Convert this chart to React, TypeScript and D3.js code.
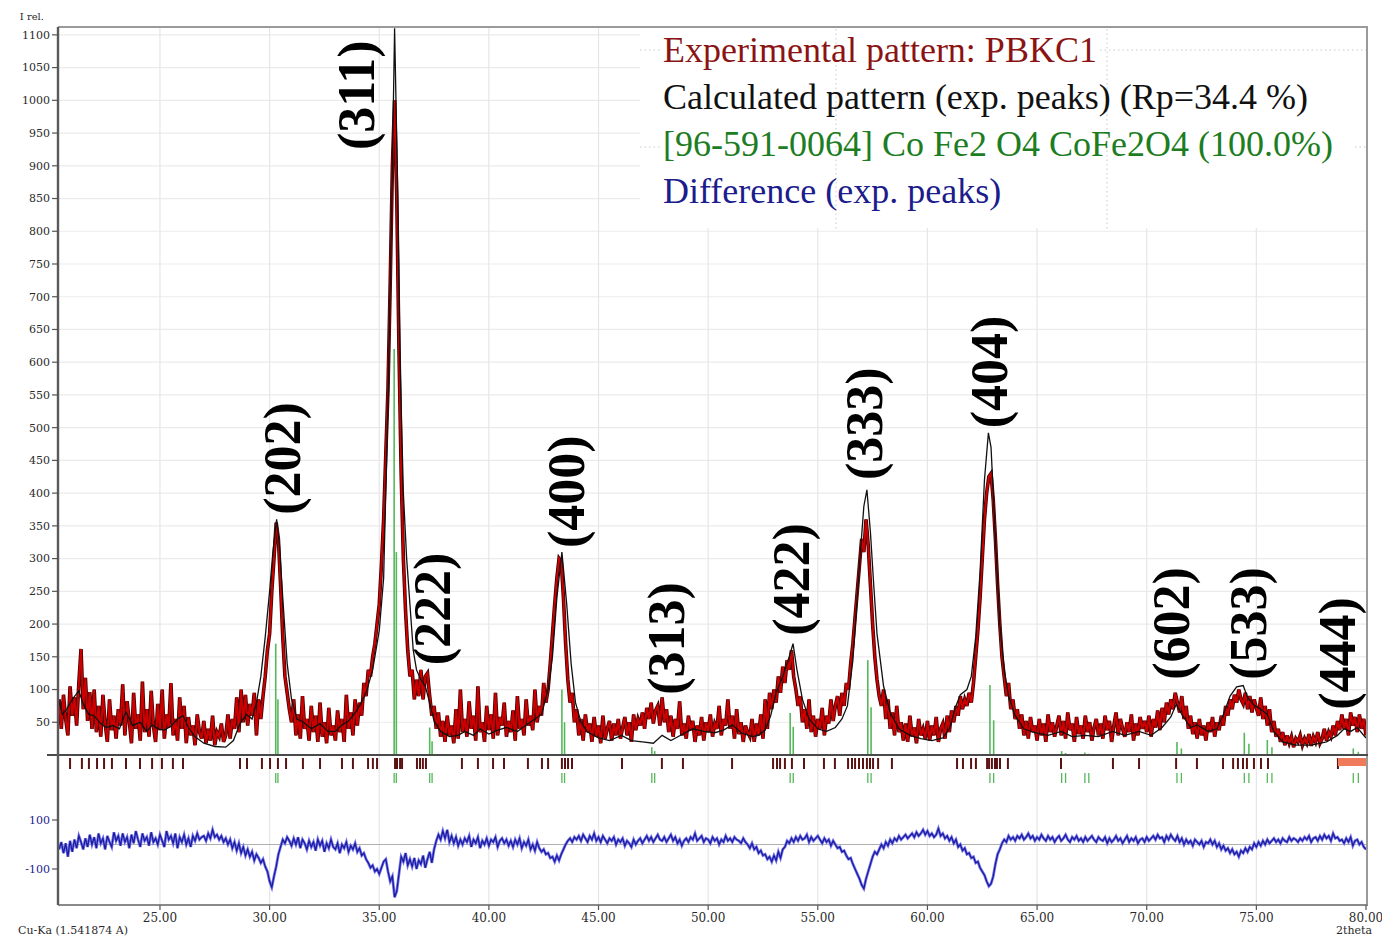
import React from "react";
import * as d3 from "d3";

const W = 1382;
const H = 937;

// experimental pattern, 2theta from 20.4 step 0.1
const expStart = 20.4;
const expStep = 0.1;
const expCounts = [
  85, 40, 92, 55, 30, 105,
  60, 88, 45, 110, 162, 70, 118, 52, 96, 40,
  100, 35, 75, 28, 92, 48, 20, 85, 38, 60,
  25, 70, 45, 108, 30, 82, 52, 18, 95, 40,
  62, 22, 112, 35, 70, 28, 98, 45, 20, 78,
  38, 100, 25, 62, 42, 110, 30, 55, 22, 88,
  40, 75, 18, 58, 30, 45, 15, 62, 35, 25,
  52, 18, 40, 22, 60, 15, 35, 28, 48, 20,
  30, 62, 25, 55, 40, 88, 35, 100, 50, 92,
  45, 78, 60, 95, 30, 85, 55, 90, 120, 160,
  185, 250, 300, 355, 330, 260, 180, 120, 95, 70,
  50, 85, 30, 62, 25, 90, 40, 55, 22, 75,
  35, 60, 20, 80, 28, 50, 18, 72, 30, 45,
  22, 68, 35, 55, 20, 92, 40, 65, 30, 85,
  45, 80, 60, 110, 90, 130, 120, 150, 170, 200,
  230, 290, 360, 460, 560, 720, 900, 1000, 850, 620,
  430, 300, 220, 160, 120, 130, 85, 115, 90, 130,
  85, 120, 125, 90, 60, 75, 40, 65, 28, 52,
  20, 60, 30, 45, 18, 70, 25, 100, 35, 55,
  28, 82, 40, 60, 22, 105, 35, 50, 20, 75,
  38, 62, 25, 95, 30, 58, 45, 80, 28, 52,
  35, 68, 22, 90, 40, 55, 30, 85, 45, 60,
  38, 100, 50, 75, 60, 110, 80, 100, 140, 185,
  230, 270, 300, 295, 240, 170, 115, 80, 95, 50,
  70, 30, 55, 22, 62, 35, 48, 20, 58, 28,
  45, 18, 60, 25, 40, 52, 22, 48, 30, 55,
  25, 42, 58, 30, 50, 20, 62, 38, 55, 45,
  65, 40, 72, 55, 80, 48, 68, 75, 45, 88,
  50, 70, 35, 60, 28, 55, 40, 82, 30, 48,
  25, 60, 38, 52, 20, 45, 30, 58, 22, 50,
  35, 62, 28, 48, 40, 75, 30, 55, 45, 85,
  40, 60, 25, 70, 32, 50, 20, 45, 35, 28,
  55, 20, 48, 30, 62, 25, 85, 40, 95, 70,
  100, 80, 120, 95, 135, 110, 145, 130, 160, 120,
  100, 75, 90, 50, 70, 40, 85, 35, 60, 28,
  55, 40, 72, 30, 60, 48, 85, 52, 75, 90,
  60, 95, 75, 110, 100, 140, 170, 210, 250, 290,
  330, 310, 360, 320, 260, 200, 150, 115, 90, 75,
  100, 55, 85, 40, 65, 30, 75, 35, 50, 22,
  48, 20, 60, 28, 42, 18, 55, 30, 40, 25,
  52, 22, 45, 30, 58, 20, 40, 48, 25, 60,
  35, 68, 50, 75, 60, 90, 70, 85, 75, 95,
  80, 110, 150, 190, 240, 300, 360, 400, 425, 430,
  390, 330, 260, 200, 150, 120, 90, 110, 70, 85,
  55, 70, 40, 62, 30, 52, 25, 58, 35, 45,
  22, 55, 30, 48, 20, 62, 35, 50, 28, 45,
  60, 30, 52, 25, 65, 38, 48, 20, 58, 32,
  45, 25, 60, 35, 50, 22, 42, 55, 30, 48,
  25, 60, 38, 52, 20, 45, 65, 30, 55, 40,
  28, 50, 35, 62, 22, 48, 30, 58, 40, 52,
  35, 60, 28, 55, 42, 68, 38, 72, 50, 80,
  62, 85, 70, 95, 80, 65, 90, 55, 75, 40,
  60, 32, 50, 25, 55, 30, 45, 22, 50, 35,
  58, 28, 50, 38, 60, 45, 75, 60, 85, 70,
  92, 80, 100, 85, 78, 95, 70, 90, 65, 85,
  72, 60, 88, 55, 75, 45, 70, 35, 52, 28,
  40, 20, 35, 15, 30, 18, 28, 12, 25, 20,
  30, 15, 25, 18, 32, 14, 28, 20, 35, 18,
  25, 40, 22, 35, 28, 45, 30, 52, 38, 62,
  40, 55, 30, 65, 45, 58, 35, 62, 40, 55,
  30,
];

// difference (exp. peaks), same 2theta grid
const diffCounts = [
  -20, 10, -35, 5, -50, 15,
  -30, 20, -15, 35, 10, -20, 25, -10, 40, 0,
  30, -15, 45, 5, 25, -20, 35, 10, -10, 50,
  15, 35, -5, 45, 10, 30, -15, 40, 5, 55,
  20, -10, 45, 15, 30, -5, 50, 10, 25, 0,
  40, 15, -10, 55, 20, 35, 5, 45, -15, 30,
  10, 40, 0, 25, -10, 35, 15, 45, 20, 30,
  35, 15, 45, 25, 60, 30, 40, 20, 35, 10,
  25, 0, 20, -15, 10, -25, 5, -35, -10, -45,
  -20, -50, -30, -65, -40, -55, -75, -60, -90, -110,
  -150, -175, -130, -90, -40, -10, 20, 5, 30, 15,
  -5, 25, 0, 30, -15, 20, 5, -20, 15, -10,
  10, -25, 20, -5, 15, -30, 5, -15, 20, -10,
  -20, 5, -35, 0, -15, 10, -30, -5, -20, 5,
  -30, -15, -45, -35, -60, -75, -95, -85, -110, -100,
  -120, -95, -70, -60, -110, -150, -130, -215, -190, -120,
  -50, -70, -35, -85, -60, -90, -55, -100, -65, -80,
  -45, -95, -60, -30, -75, -20, 15, 40, 20, 55,
  25, 60, 10, 35, 5, 30, -5, 20, 0, 25,
  10, 35, -10, 20, 5, 30, -15, 15, 0, 25,
  -5, 20, 10, 30, -10, 15, 25, 5, 20, -5,
  15, -10, 20, 0, 25, -15, 10, -5, 20, -20,
  0, -25, 10, -15, -30, -20, -40, -35, -55, -50,
  -70, -45, -65, -40, -20, 0, 15, 25, 10, 30,
  20, 35, 15, 40, 25, 10, 35, 20, 45, 15,
  30, 10, 35, 20, 5, 25, 15, 30, 0, 20,
  10, 25, -5, 15, 5, -10, 20, 0, 15, 25,
  5, 20, 35, 15, 30, 10, 25, 40, 20, 15,
  30, 10, 25, 40, 15, 30, 5, 20, -5, 15,
  25, 10, 30, 20, 45, 15, 25, 35, 10, 25,
  20, 5, 30, 15, 25, 0, 20, 10, 35, 15,
  25, 10, 30, 20, 15, 5, 25, 10, 0, -15,
  5, -20, -10, -35, -25, -45, -40, -60, -50, -70,
  -45, -65, -30, -55, -20, -10, 15, 5, 25, 10,
  30, 15, 35, 20, 25, 40, 10, 30, 15, 25,
  35, 20, 5, 25, 10, 20, -5, 15, 0, -15,
  -10, -30, -25, -45, -60, -55, -80, -100, -120, -140,
  -165, -180, -140, -110, -80, -50, -30, -40, -20, 0,
  -15, 10, -5, 20, 5, 25, 15, 35, 20, 30,
  40, 25, 35, 45, 30, 50, 35, 45, 60, 40,
  55, 35, 45, 30, 40, 65, 35, 45, 25, 35,
  15, 30, 5, 20, -10, 0, -25, -15, -40, -35,
  -55, -50, -75, -70, -95, -110, -125, -150, -170, -160,
  -130, -80, -40, -20, 5, 20, 10, 35, 20, 30,
  15, 35, 25, 40, 20, 30, 45, 25, 35, 15,
  30, 20, 40, 25, 15, 35, 20, 30, 10, 25,
  35, 15, 25, 40, 20, 10, 30, 20, 35, 15,
  25, 10, 30, 15, 25, 35, 20, 10, 30, 20,
  15, 30, 5, 25, 10, 20, 35, 15, 25, 5,
  20, 35, 10, 25, 15, 30, 5, 20, 25, 10,
  30, 15, 25, 35, 20, 40, 25, 30, 10, 35,
  20, 40, 25, 15, 35, 10, 25, 0, 20, 5,
  15, -5, 20, 10, 0, 15, -10, 10, 5, 20,
  0, 15, -10, 5, -20, -5, -25, -15, -35, -20,
  -40, -30, -50, -25, -35, -15, -30, -10, -20, 5,
  -10, 10, -5, 15, 0, 20, 5, 15, 25, 10,
  20, 5, 25, 15, 10, 30, 15, 25, 20, 10,
  25, 15, 30, 20, 35, 10, 25, 30, 15, 35,
  20, 40, 25, 35, 15, 45, 25, 30, 15, 20,
  5, 25, 10, 30, -5, 15, 20, 0, 10, -10,
  -20,
];

// calculated pattern (exp. peaks)
const calcTheta = [
  20.35, 20.55, 20.75, 21.0, 21.3, 21.5, 21.75, 22.0, 22.3, 22.55, 22.85, 23.15, 23.45, 23.75,
  24.1, 24.4, 24.65, 24.9, 25.2, 25.5, 25.8, 26.05, 26.3, 26.6, 27.0, 27.5, 28.0, 28.35, 28.65,
  28.95, 29.2, 29.4, 29.6, 29.8, 30.0, 30.15, 30.32, 30.45, 30.6, 30.8, 31.0, 31.25, 31.55,
  31.9, 32.3, 32.65, 33.0, 33.3, 33.6, 33.85, 34.1, 34.4, 34.7, 35.0, 35.2, 35.4, 35.58, 35.7,
  35.82, 35.95, 36.1, 36.25, 36.4, 36.55, 36.7, 36.9, 37.1, 37.3, 37.5, 37.8, 38.2, 38.6, 38.9,
  39.3, 39.6, 40.0, 40.4, 40.8, 41.3, 41.8, 42.1, 42.4, 42.7, 42.9, 43.1, 43.33, 43.55, 43.75,
  43.95, 44.2, 44.5, 45.0, 45.5, 46.05, 46.5, 47.0, 47.5, 47.9, 48.3, 48.85, 49.3, 49.8, 50.3,
  50.7, 51.1, 51.5, 52.0, 52.3, 52.6, 52.85, 53.1, 53.4, 53.65, 53.87, 54.05, 54.3, 54.6, 55.0,
  55.4, 55.8, 56.1, 56.35, 56.6, 56.9, 57.1, 57.24, 57.4, 57.55, 57.7, 58.0, 58.3, 58.7, 59.2,
  59.7, 60.2, 60.7, 61.0, 61.3, 61.5, 61.8, 62.0, 62.2, 62.4, 62.6, 62.78, 62.9, 63.1, 63.3,
  63.5, 63.7, 64.0, 64.4, 64.9, 65.5, 66.1, 66.6, 67.2, 67.8, 68.45, 69.0, 69.65, 70.2, 70.7,
  71.1, 71.35, 71.6, 72.0, 72.3, 72.8, 73.2, 73.5, 73.8, 74.1, 74.4, 74.6, 74.9, 75.2, 75.5,
  75.8, 76.2, 76.8, 77.5, 78.2, 78.7, 79.0, 79.3, 79.6, 80.0,
];
const calcCounts = [
  88, 62, 70, 85, 98, 78, 62, 60, 48, 42, 45, 40, 66, 45,
  50, 36, 46, 40, 38, 44, 55, 60, 42, 28, 18, 13, 12, 22, 48,
  62, 55, 80, 120, 180, 250, 310, 360, 320, 240, 140, 85, 55, 50,
  40, 48, 36, 36, 46, 52, 62, 75, 95, 130, 190, 270, 540, 860, 1110,
  900, 600, 400, 300, 230, 160, 130, 115, 105, 80, 52, 36, 28, 30, 36,
  30, 40, 32, 38, 42, 36, 48, 55, 62, 100, 150, 240, 310, 230, 140,
  80, 50, 35, 26, 22, 30, 22, 20, 18, 30, 22, 32, 40, 36, 34,
  38, 46, 34, 28, 30, 38, 60, 95, 120, 145, 170, 130, 85, 55, 40,
  36, 42, 55, 75, 145, 290, 380, 405, 340, 260, 185, 105, 65, 40, 30,
  25, 22, 26, 40, 75, 92, 100, 120, 180, 280, 420, 492, 470, 330, 200,
  130, 90, 60, 40, 34, 30, 36, 28, 30, 28, 36, 30, 36, 30, 42,
  58, 78, 62, 42, 46, 36, 40, 62, 90, 104, 106, 88, 76, 70, 62,
  36, 20, 15, 15, 20, 30, 40, 36, 42, 26,
];

// CoFe2O4 reference lines [96-591-0064], K-alpha1 / K-alpha2
const refTheta = [
  30.28, 30.38, 35.68, 35.78, 37.3, 37.41, 43.33, 43.45, 47.43, 47.56, 53.74, 53.88,
  57.28, 57.43, 62.85, 63.02, 66.12, 66.3, 67.18, 67.36, 71.38, 71.58, 74.45, 74.66,
  75.5, 75.71, 79.42, 79.65,
];
const refCounts = [
  170, 85, 620, 310, 42, 21, 100, 50, 12, 6, 64, 43,
  145, 73, 107, 53, 6, 3, 4, 2, 20, 10, 34, 17,
  23, 12, 10, 5,
];

// peak positions found in the experimental pattern
const peakTheta = [
  20.9, 21.44, 21.76, 22.13, 22.45, 22.81, 23.45, 24.09, 24.64, 25.09, 25.59, 26.05, 28.65,
  28.97, 29.65, 30.02, 30.38, 30.75, 31.52, 32.3, 33.3, 33.8, 34.49, 34.71, 34.9, 35.72,
  35.81, 35.95, 36.04, 36.72, 36.86, 36.99, 37.13, 38.77, 39.5, 40.19, 40.69, 41.78, 42.42,
  42.7, 43.33, 43.47, 43.61, 43.79, 46.07, 47.89, 48.85, 51.09, 52.96, 53.14, 53.28, 53.5,
  53.82, 54.37, 55.28, 55.78, 56.38, 56.56, 56.7, 56.88, 57.06, 57.24, 57.38, 57.52, 57.75,
  58.38, 61.35, 61.62, 61.99, 62.21, 62.72, 62.81, 62.94, 63.08, 63.17, 63.31, 63.67, 66.09,
  68.46, 69.65, 71.34, 72.29, 73.48, 73.94, 74.16, 74.39, 74.57, 74.89, 75.21, 75.53, 78.72,
];
const excludedRange = [78.72, 80.0];

const hklNames = ["(202)", "(311)", "(222)", "(400)", "(313)", "(422)", "(333)", "(404)", "(602)", "(533)", "(444)"];
const hklTheta = [30.61, 33.98, 37.45, 43.56, 48.08, 53.82, 57.15, 62.85, 71.15, 74.62, 78.72];
const hklLevel = [367, 924, 137, 316, 92, 182, 420, 499, 115, 115, 69];

const yTicks = d3.range(50, 1101, 50);
const diffTicks = [100, -100];
const xTicks = [25, 30, 35, 40, 45, 50, 55, 60, 65, 70, 75, 80];

const legendLabels = [
  "Experimental pattern: PBKC1",
  "Calculated pattern (exp. peaks) (Rp=34.4 %)",
  "[96-591-0064] Co Fe2 O4 CoFe2O4 (100.0%)",
  "Difference (exp. peaks)",
];
const legendColors = ["#8a1414", "#111111", "#1c7d22", "#1c1c8c"];

const tickFont = "'DejaVu Serif', serif";
const textFont = "'Liberation Serif', 'Times New Roman', serif";

export default function App() {
  const left = 58;
  const right = 1367;
  const top = 27;
  const bottom = 905;

  const x = d3.scaleLinear().domain([20.35, 80]).range([left, 1366]);
  const y = d3.scaleLinear().domain([0, 1112]).range([755, top]);
  const yd = d3.scaleLinear().domain([-100, 100]).range([869, 820]);

  const expPts: [number, number][] = expCounts.map((c, i) => [expStart + i * expStep, c]);
  const diffPts: [number, number][] = diffCounts.map((c, i) => [expStart + i * expStep, c]);
  const calcPts: [number, number][] = calcTheta.map((t, i) => [t, calcCounts[i]]);

  const mainLine = d3
    .line<[number, number]>()
    .x((d) => x(d[0]))
    .y((d) => y(d[1]));
  const diffLine = d3
    .line<[number, number]>()
    .x((d) => x(d[0]))
    .y((d) => yd(d[1]));

  const expPath = mainLine(expPts) || "";
  const diffPath = diffLine(diffPts) || "";

  return (
    <div style={{ position: "absolute", left: 0, top: 0 }}>
      <svg width={W} height={H} style={{ display: "block", background: "#fff" }}>
        {/* grid */}
        <g>
          {yTicks.map((t) => (
            <line key={t} x1={left} x2={right} y1={y(t)} y2={y(t)} stroke="#ebebeb" strokeWidth={1.2} />
          ))}
          {xTicks.slice(0, -1).map((t) => (
            <line key={t} x1={x(t)} x2={x(t)} y1={top} y2={bottom} stroke="#e6e6e6" strokeWidth={1.2} />
          ))}
          <line x1={left} x2={right} y1={yd(0)} y2={yd(0)} stroke="#b0b0b0" strokeWidth={1} />
        </g>

        {/* legend box */}
        <g>
          <rect x={640} y={top + 1} width={right - 641} height={200} fill="#fff" />
          <line x1={836} x2={836} y1={top + 2} y2={230} stroke="#c8c8c8" strokeDasharray="1.5 3" />
          <line x1={1107} x2={1107} y1={top + 2} y2={230} stroke="#c8c8c8" strokeDasharray="1.5 3" />
          <line x1={640} x2={660} y1={50} y2={50} stroke="#c8c8c8" strokeDasharray="1.5 3" />
          <line x1={1100} x2={right} y1={50} y2={50} stroke="#c8c8c8" strokeDasharray="1.5 3" />
          <line x1={640} x2={660} y1={147} y2={147} stroke="#c8c8c8" strokeDasharray="1.5 3" />
          <line x1={1355} x2={right} y1={147} y2={147} stroke="#c8c8c8" strokeDasharray="1.5 3" />
          {legendLabels.map((s, i) => (
            <text
              key={s}
              x={663}
              y={62 + i * 47}
              fontFamily={textFont}
              fontSize={36}
              fill={legendColors[i]}
            >
              {s}
            </text>
          ))}
        </g>

        {/* experimental pattern */}
        <path d={expPath} fill="none" stroke="#420000" strokeWidth={3.6} />
        <path d={expPath} fill="none" stroke="#cc0000" strokeWidth={2} />

        {/* reference sticks */}
        {refTheta.map((t, i) => (
          <line
            key={i}
            x1={x(t)}
            x2={x(t)}
            y1={y(0)}
            y2={y(refCounts[i])}
            stroke="#55b85a"
            strokeWidth={1.6}
          />
        ))}

        {/* calculated pattern */}
        <path d={mainLine(calcPts) || ""} fill="none" stroke="#111" strokeWidth={1.3} />

        {/* difference */}
        <path d={diffPath} fill="none" stroke="#7474f2" strokeWidth={2.8} />
        <path d={diffPath} fill="none" stroke="#1a1a96" strokeWidth={1.2} />

        {/* peak markers */}
        {peakTheta.map((t, i) => (
          <line key={i} x1={x(t)} x2={x(t)} y1={758} y2={769} stroke="#5a1212" strokeWidth={2} />
        ))}
        <rect
          x={x(excludedRange[0])}
          y={758}
          width={x(excludedRange[1]) - x(excludedRange[0])}
          height={8}
          fill="#f07a5c"
        />
        {refTheta.map((t, i) => (
          <line key={i} x1={x(t)} x2={x(t)} y1={773} y2={783} stroke="#55b85a" strokeWidth={1.3} />
        ))}

        {/* frame and axes */}
        <line x1={left} x2={right + 1} y1={top} y2={top} stroke="#9a9a9a" strokeWidth={2} />
        <line x1={right} x2={right} y1={top} y2={bottom} stroke="#9a9a9a" strokeWidth={2} />
        <line x1={left} x2={right + 1} y1={bottom} y2={bottom} stroke="#8a8a8a" strokeWidth={2} />
        <line x1={47} x2={right + 1} y1={y(0)} y2={y(0)} stroke="#4a4a4a" strokeWidth={2} />
        <line x1={left} x2={left} y1={top} y2={bottom} stroke="#5a5a5a" strokeWidth={2.4} />

        {/* y axis */}
        <g fontFamily={tickFont} fontSize={11} fill="#2a2a2a" textAnchor="end">
          {yTicks.map((t) => (
            <g key={t}>
              <line x1={52} x2={left} y1={y(t)} y2={y(t)} stroke="#555" strokeWidth={1.2} />
              <text x={50} y={y(t)} dy="0.35em">
                {t}
              </text>
            </g>
          ))}
          {diffTicks.map((t) => (
            <g key={t}>
              <line x1={52} x2={left} y1={yd(t)} y2={yd(t)} stroke="#555" strokeWidth={1.2} />
              <text x={50} y={yd(t)} dy="0.35em" fill="#1c1c8c">
                {t}
              </text>
            </g>
          ))}
          <text x={44} y={20} fontSize={10}>
            I rel.
          </text>
        </g>

        {/* x axis */}
        <g fontFamily={tickFont} fontSize={12} fill="#2a2a2a" textAnchor="middle">
          {xTicks.map((t) => (
            <g key={t}>
              <line x1={x(t)} x2={x(t)} y1={bottom} y2={bottom + 5} stroke="#555" strokeWidth={1.2} />
              <text x={x(t)} y={922}>
                {t.toFixed(2)}
              </text>
            </g>
          ))}
          <text x={18} y={934} textAnchor="start" fontSize={11}>
            Cu-Ka (1.541874 A)
          </text>
          <text x={1372} y={934} textAnchor="end" fontSize={11}>
            2theta
          </text>
        </g>

        {/* hkl labels */}
        {hklNames.map((s, i) => (
          <text
            key={s}
            transform={`translate(${x(hklTheta[i])},${y(hklLevel[i])}) rotate(-90)`}
            fontFamily={textFont}
            fontWeight="bold"
            fontSize={52}
            dominantBaseline="central"
            fill="#000"
          >
            {s}
          </text>
        ))}
      </svg>
    </div>
  );
}
